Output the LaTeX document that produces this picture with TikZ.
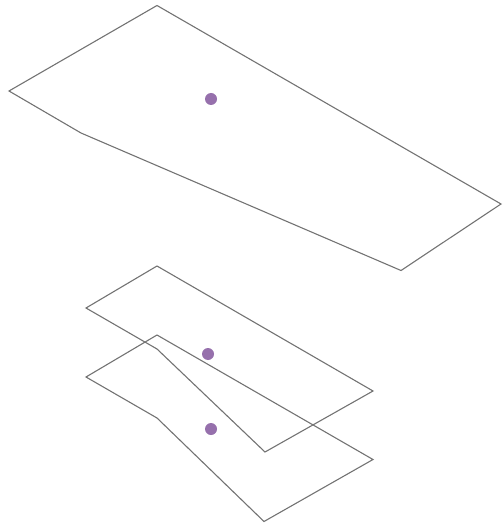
\documentclass[tikz,border=0pt]{standalone}
\begin{document}
\begin{tikzpicture}[x=1pt,y=-1pt,
  plane/.style={draw=black!55, line width=1.1pt, line join=miter},
  pt/.style={fill={rgb,255:red,150;green,112;blue,172}}]
\useasboundingbox (0,0) rectangle (502,526);
% top plane
\draw[plane] (9,91) -- (157,5.5) -- (501,204) -- (401,270.5) -- (81,133) -- cycle;
\fill[pt] (211,99) circle (6);
% middle plane
\draw[plane] (86,308) -- (157,266) -- (373,391) -- (265,452) -- (157,349) -- cycle;
\fill[pt] (208,354) circle (6);
% bottom plane
\draw[plane] (86,377) -- (157,335) -- (373,459.5) -- (264,521.5) -- (157,418) -- cycle;
\fill[pt] (211,429) circle (6);
\end{tikzpicture}
\end{document}
